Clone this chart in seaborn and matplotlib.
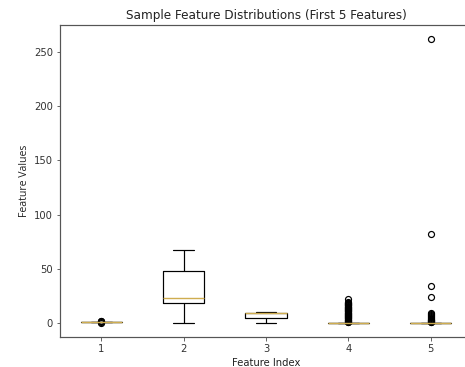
import pandas as pd
import matplotlib
matplotlib.use("Agg")
import matplotlib.pyplot as plt
import seaborn as sns

# values (five features)
feature_labels = ["1", "2", "3", "4", "5"]
f1 = [1] * 40 + [0, 0.3, 1.6, 2]
f2 = [0, 10, 18.5, 21, 23, 35, 48, 58, 67]
f3 = [0, 3, 4.6, 8, 9.5, 9.5, 9.5, 9.8, 10]
f4 = [0] * 160 + [0.5, 1, 1.5, 2, 2.5, 3, 3.5, 4, 4.5, 5, 5.5, 6, 6.5, 7, 7.5,
                  8, 8.5, 9, 9.5, 10, 10.5, 11, 11.5, 12, 12.5, 13, 13.5, 14,
                  14.5, 15, 15.5, 16, 16.5, 17, 17.5, 18, 18.5, 19, 22]
f5 = [0] * 80 + [0.5, 1, 1.5, 2, 2.5, 3, 3.5, 4, 5, 6, 7, 8, 9, 24, 34, 82, 262]

rows = []
for lab, vals in zip(feature_labels, [f1, f2, f3, f4, f5]):
    for v in vals:
        rows.append((lab, v))
df = pd.DataFrame(rows, columns=["feature", "value"])

sns.set_style("ticks")
plt.rcParams["font.family"] = ["DejaVu Sans"]

fig = plt.figure(figsize=(465 / 72, 367 / 72), dpi=72)
ax = fig.add_axes([60 / 465, 30 / 367, 412 / 465, 312 / 367])

med_color = "#cfad50"
sns.boxplot(data=df, x="feature", y="value", order=feature_labels, ax=ax,
            width=0.5, fill=False, color="black", linewidth=1.2, whis=1.5,
            medianprops=dict(color=med_color, linewidth=1.4, zorder=6),
            boxprops=dict(color="black"),
            whiskerprops=dict(color="black"),
            capprops=dict(color="black"),
            flierprops=dict(marker="o", markerfacecolor="none",
                            markeredgecolor="black", markersize=6,
                            markeredgewidth=1.2, zorder=5))

ax.set_xlim(-0.5, 4.5)
ax.set_title("Sample Feature Distributions (First 5 Features)", fontsize=12, pad=6,
             color="#222222")
ax.set_xlabel("Feature Index", fontsize=10, color="#222222")
ax.set_ylabel("Feature Values", fontsize=10.5, family=["Open Sans", "DejaVu Sans"],
              color="#222222")
ax.tick_params(labelsize=10, colors="#444444", labelcolor="#333333")
for s in ax.spines.values():
    s.set_color("#555555")
    s.set_linewidth(1.2)
ax.spines["right"].set_visible(False)

fig.savefig("out.png", dpi=72)
